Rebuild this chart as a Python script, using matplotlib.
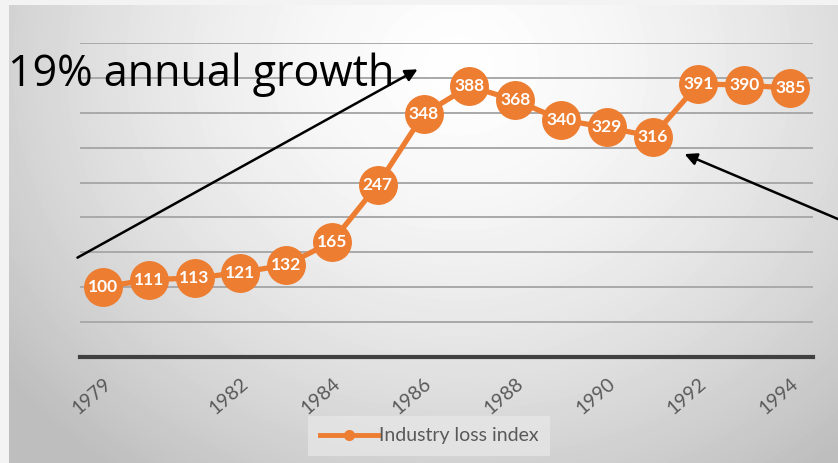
import numpy as np
import matplotlib
matplotlib.use("Agg")
import matplotlib.pyplot as plt
from matplotlib.lines import Line2D
from matplotlib.patches import FancyArrowPatch

# industry loss index, 1979 = 100
years = list(range(1979, 1995))
loss_index = [100, 111, 113, 121, 132, 165, 247, 348, 388, 368, 340, 329, 316, 391, 390, 385]
tick_years = [1979, 1982, 1984, 1986, 1988, 1990, 1992, 1994]
y_grid = list(range(50, 451, 50))

W, H = 838, 463
orange = "#ED7D31"

fig = plt.figure(figsize=(W / 100, H / 100), dpi=100)
fig.patch.set_facecolor("#f3f3f3")

# soft radial background behind the slide area
bg = fig.add_axes([9 / W, 0, 1 - 9 / W, 1 - 5 / H])
bg.set_axis_off()
yy, xx = np.mgrid[0:H - 5, 0:W - 9]
dx = (xx - 450) / 500
dy = (yy - 60) / 440
d = np.clip(np.sqrt(dx ** 2 + dy ** 2), 0, 1.15)
shade = 0.995 - 0.2 * d ** 1.6
bg.imshow(shade, cmap="gray", vmin=0, vmax=1, aspect="auto", interpolation="bilinear")

# main chart
ax = fig.add_axes([80 / W, 1 - 357 / H, 733 / W, (357 - 43) / H])
ax.patch.set_alpha(0)
x = np.arange(len(years))
ax.set_xlim(-0.5, len(years) - 0.5)
ax.set_ylim(0, 450)

for g in y_grid:
    ax.axhline(g, color="#a9a9a9", lw=1.4, zorder=1)
ax.axhline(0, color="#404040", lw=3, zorder=2, clip_on=False)

ax.plot(x, loss_index, color=orange, lw=3.8, marker="o", markersize=27,
        markerfacecolor=orange, markeredgecolor=orange, zorder=3, clip_on=False)
for xi, v in zip(x, loss_index):
    ax.text(xi, v, str(v), ha="center", va="center", color="white",
            fontsize=12.5, fontweight="bold", family="Lato", zorder=4)

for s in ax.spines.values():
    s.set_visible(False)
ax.set_yticks([])
ax.set_xticks([years.index(t) for t in tick_years])
ax.set_xticklabels([str(t) for t in tick_years], rotation=41, ha="right",
                   rotation_mode="anchor", color="#595959", fontsize=14, family="Lato")
ax.tick_params(axis="x", length=0, pad=13)

# legend
handle = Line2D([], [], color=orange, lw=3.5, marker="o", markersize=7)
leg = fig.legend([handle], ["Industry loss index"], loc="center",
                 bbox_to_anchor=(429 / W, 1 - 436 / H), frameon=True, fancybox=False,
                 handlelength=3.0, handletextpad=0.05, borderpad=0.6,
                 prop={"family": "Lato", "size": 14})
leg.get_frame().set_facecolor("#e6e6e6")
leg.get_frame().set_edgecolor("none")
leg.get_texts()[0].set_color("#595959")

# annotations
fig.text(8 / W, 1 - 75 / H, "19% annual growth", fontsize=31, family="Open Sans",
         va="center", ha="left", color="black")
fig.add_artist(FancyArrowPatch(
    (75 / W, 1 - 259 / H), (420 / W, 1 - 68 / H), transform=fig.transFigure,
    arrowstyle="-|>", mutation_scale=18, color="black", lw=1.8))
fig.add_artist(FancyArrowPatch(
    (845 / W, 1 - 222 / H), (682 / W, 1 - 153 / H), transform=fig.transFigure,
    arrowstyle="-|>", mutation_scale=18, color="black", lw=1.8))

fig.savefig("out.png", dpi=100)
